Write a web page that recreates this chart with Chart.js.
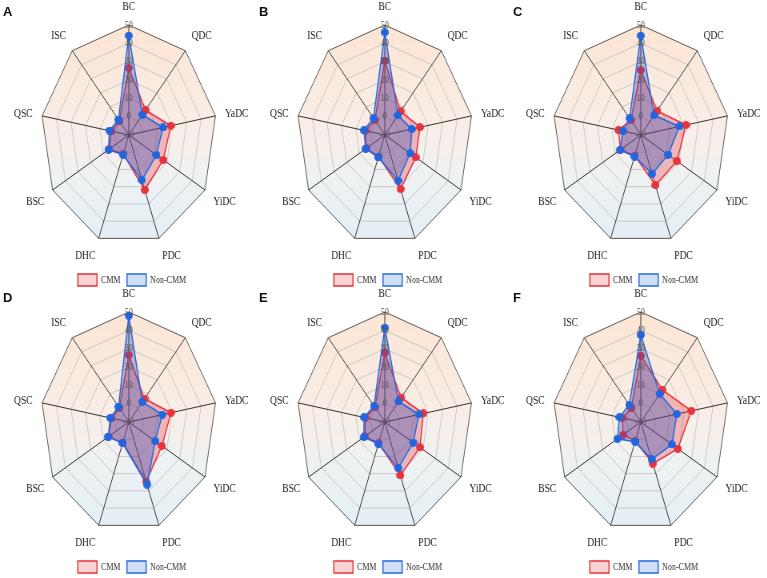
<!DOCTYPE html>
<html>
<head>
<meta charset="utf-8">
<script src="https://cdn.jsdelivr.net/npm/chart.js@4.4.1/dist/chart.umd.min.js"></script>
<style>
  body { margin: 0; background: #fff; width: 767px; height: 578px; overflow: hidden; position: relative; }
  .panel { position: absolute; transform: scaleX(0.8); transform-origin: 0 0; }
  .tag { position: absolute; font: bold 13px "Liberation Sans", Arial, sans-serif; line-height: 13px; color: #111; }
</style>
</head>
<body>
<script>
var axisLabels = ['BC', 'QDC', 'YaDC', 'YiDC', 'PDC', 'DHC', 'BSC', 'QSC', 'ISC'];
var panelTags = ['A', 'B', 'C', 'D', 'E', 'F'];
var seriesNames = ['CMM', 'Non-CMM'];
var tickMin = -10, tickMax = 50, tickStep = 10;

// CMM values per panel
var cmmA = [26.6, 7.7, 19.1, 17.1, 21.9, 1.0, 5.5, 2.0, 0.0];
var cmmB = [30.5, 6.8, 14.4, 14.4, 21.4, 2.5, 4.5, 3.5, 0.5];
var cmmC = [25.3, 7.2, 21.3, 18.5, 19.2, 2.0, 6.0, 5.5, 0.5];
var cmmD = [26.5, 6.6, 19.2, 16.1, 24.6, 2.0, 6.0, 2.0, 0.0];
var cmmE = [27.8, 7.3, 16.7, 17.7, 21.0, 2.3, 5.8, 3.5, 0.5];
var cmmF = [26.2, 12.9, 25.0, 19.2, 14.2, 1.0, 3.9, 2.8, 0.0];
// Non-CMM values per panel
var nonA = [44.2, 4.4, 13.7, 11.7, 16.1, 1.5, 6.0, 3.4, 1.0];
var nonB = [46.0, 4.0, 8.6, 10.0, 16.5, 3.0, 5.0, 4.5, 2.0];
var nonC = [44.2, 4.1, 16.7, 11.5, 12.5, 2.5, 6.4, 2.3, 1.9];
var nonD = [47.9, 4.3, 13.2, 10.8, 26.4, 2.3, 6.2, 2.8, 0.9];
var nonE = [41.5, 4.6, 13.6, 12.4, 16.8, 2.8, 6.4, 4.4, 1.4];
var nonF = [37.5, 10.0, 15.0, 14.5, 11.7, 1.5, 8.4, 4.8, 2.2];

var cmmAll = [cmmA, cmmB, cmmC, cmmD, cmmE, cmmF];
var nonAll = [nonA, nonB, nonC, nonD, nonE, nonF];

var colX = [129.2, 384.5, 641];
var rowY = [134.5, 422];
var tagPos = [[3, 5], [259, 5], [513, 5], [3, 291], [259, 291], [513, 291]];
var legendFill = ['#f9d3d3', '#cfe0f6'];
var SX = 0.8;

// round dots that stay round after the horizontal squeeze
function dot(color) {
  var c = document.createElement('canvas');
  c.width = 10; c.height = 8;
  var g = c.getContext('2d');
  g.fillStyle = color;
  g.beginPath();
  g.ellipse(5, 4, 5, 4, 0, 0, Math.PI * 2);
  g.fill();
  return c;
}
var redDot = dot('#e8323c');
var blueDot = dot('#1f66e0');

var bgPlugin = {
  id: 'polyBg',
  beforeDraw: function(chart) {
    var s = chart.scales.r, ctx = chart.ctx;
    ctx.save();
    ctx.beginPath();
    for (var i = 0; i < axisLabels.length; i++) {
      var p = s.getPointPosition(i, s.drawingArea);
      if (i === 0) ctx.moveTo(p.x, p.y); else ctx.lineTo(p.x, p.y);
    }
    ctx.closePath();
    var g = ctx.createLinearGradient(0, s.yCenter - s.drawingArea, 0, s.yCenter + s.drawingArea);
    g.addColorStop(0, '#fde5d4');
    g.addColorStop(0.45, '#f9eee7');
    g.addColorStop(0.7, '#eef2f3');
    g.addColorStop(1, '#e3eff6');
    ctx.fillStyle = g;
    ctx.fill();
    ctx.restore();
  }
};

var serif = 'Liberation Serif';

panelTags.forEach(function(tag, k) {
  var div = document.createElement('div');
  div.className = 'panel';
  var cv = document.createElement('canvas');
  cv.width = 320; cv.height = 299;
  div.appendChild(cv);
  document.body.appendChild(div);

  var chart = new Chart(cv.getContext('2d'), {
    type: 'radar',
    data: {
      labels: axisLabels,
      datasets: [{
        label: seriesNames[0],
        data: cmmAll[k],
        borderColor: '#e8323c',
        backgroundColor: 'rgba(226,50,62,0.3)',
        borderWidth: 1.5,
        fill: 'start',
        pointStyle: redDot,
        order: 1
      }, {
        label: seriesNames[1],
        data: nonAll[k],
        borderColor: '#2468e0',
        backgroundColor: 'rgba(50,80,190,0.35)',
        borderWidth: 1.5,
        fill: 'start',
        pointStyle: blueDot,
        order: 0
      }]
    },
    options: {
      responsive: false,
      animation: false,
      devicePixelRatio: 1,
      events: [],
      scales: {
        r: {
          min: tickMin,
          max: tickMax,
          ticks: {
            stepSize: tickStep,
            showLabelBackdrop: false,
            color: '#555',
            font: { family: serif, size: 10 },
            z: 1
          },
          grid: {
            color: function(c) { return c.tick && c.tick.value === tickMax ? '#555' : '#c8c8c8'; },
            lineWidth: 1
          },
          angleLines: { color: '#333', lineWidth: 1 },
          pointLabels: {
            color: '#222',
            padding: 5,
            font: function(c) {
              // side labels sit level with their vertex
              var side = c.label === 'YaDC' || c.label === 'QSC';
              return { family: serif, size: 12, lineHeight: side ? 0 : 1 };
            }
          }
        }
      },
      plugins: {
        tooltip: { enabled: false },
        legend: {
          position: 'bottom',
          labels: {
            boxWidth: 24,
            boxHeight: 12,
            padding: 8,
            color: '#333',
            font: { family: serif, size: 10 },
            sort: function(a, b) { return a.datasetIndex - b.datasetIndex; },
            generateLabels: function(ch) {
              var items = Chart.defaults.plugins.legend.labels.generateLabels(ch);
              items.forEach(function(it) {
                it.fillStyle = legendFill[it.datasetIndex];
                it.lineWidth = 1.5;
              });
              return items;
            }
          }
        }
      }
    },
    plugins: [bgPlugin]
  });

  var s = chart.scales.r;
  div.style.left = (colX[k % 3] - SX * s.xCenter) + 'px';
  div.style.top = (rowY[Math.floor(k / 3)] - s.yCenter) + 'px';

  var t = document.createElement('div');
  t.className = 'tag';
  t.textContent = tag;
  t.style.left = tagPos[k][0] + 'px';
  t.style.top = tagPos[k][1] + 'px';
  document.body.appendChild(t);
});
</script>
</body>
</html>
